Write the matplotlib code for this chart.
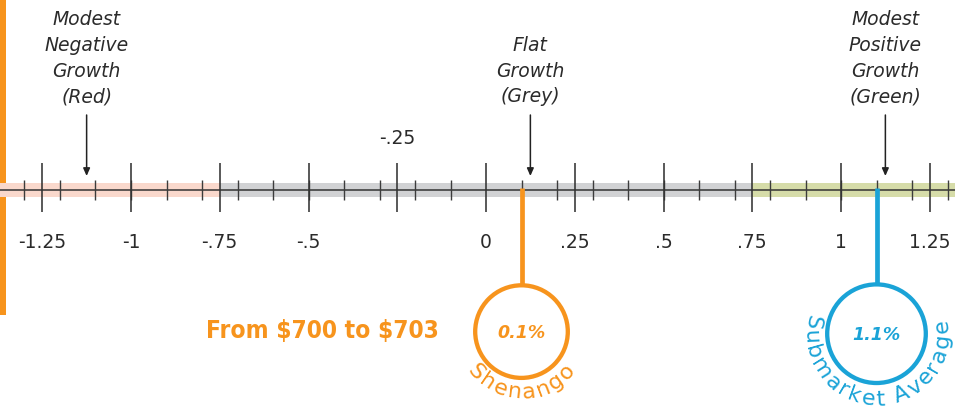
import numpy as np
import matplotlib
matplotlib.use("Agg")
import matplotlib.pyplot as plt
from matplotlib.patches import Ellipse, Rectangle
from matplotlib import font_manager
from matplotlib.ft2font import FT2Font

# ---------------- data ----------------
major_ticks = [-1.25, -1.0, -0.75, -0.5, -0.25, 0.0, 0.25, 0.5, 0.75, 1.0, 1.25]
major_labels = ['-1.25', '-1', '-.75', '-.5', '-.25', '0', '.25', '.5', '.75', '1', '1.25']
labels_above = ['-.25']
minor_ticks = [-1.3, -1.2, -1.1, -1.0, -0.9, -0.8, -0.7, -0.6, -0.5, -0.4, -0.3, -0.2, -0.1,
               0.1, 0.2, 0.3, 0.4, 0.5, 0.6, 0.7, 0.8, 0.9, 1.0, 1.1, 1.2, 1.3]

zone_edges = [-0.75, 0.75]           # red | grey | green
zone_colors = ['#f9d8cc', '#d1d2d4', '#d6dca9']
zone_label_lines = [['Modest', 'Negative', 'Growth', '(Red)'],
                    ['Flat', 'Growth', '(Grey)'],
                    ['Modest', 'Positive', 'Growth', '(Green)']]
zone_arrow_x = [-1.125, 0.125, 1.125]

marker_names = ['Shenango', 'Submarket Average']
marker_values = [0.1, 1.1]
marker_labels = ['0.1%', '1.1%']
marker_colors = ['#f7941d', '#1aa3d7']
shenango_note = 'From $700 to $703'

# ---------------- layout (pixels) ----------------
W, H, DPI = 955, 408, 100
PX_PER_UNIT = 355.0
X0 = 486.0                      # pixel of value 0
AXIS_Y = 189.5

fig = plt.figure(figsize=(W / DPI, H / DPI), dpi=DPI)
ax = fig.add_axes([0, 0, 1, 1])
xmin, xmax = -X0 / PX_PER_UNIT, (W - X0) / PX_PER_UNIT
ax.set_xlim(xmin, xmax)
ax.set_ylim(H, 0)
ax.axis('off')

def px(d):
    return d / PX_PER_UNIT

FONT = 'DejaVu Sans'
TXT = '#2b2b2b'

# left orange bar
ax.add_patch(Rectangle((xmin, 0), px(6), 315, color='#f7941d', lw=0, zorder=1))

# colored bands
bounds = [xmin] + zone_edges + [xmax]
for i, c in enumerate(zone_colors):
    ax.add_patch(Rectangle((bounds[i], AXIS_Y - 7), bounds[i + 1] - bounds[i], 14,
                           color=c, lw=0, zorder=1))

# axis line
ax.plot([xmin, xmax], [AXIS_Y, AXIS_Y], color='#333333', lw=1.1, zorder=3)

# ticks
for v in minor_ticks:
    ax.plot([v, v], [180, 200], color='#3c3c3c', lw=1.0, zorder=3, solid_capstyle='butt')
for v in major_ticks:
    ax.plot([v, v], [163, 212], color='#333333', lw=1.15, zorder=3, solid_capstyle='butt')

# tick labels
for v, lab in zip(major_ticks, major_labels):
    y = 139 if lab in labels_above else 242
    ax.text(v, y, lab, ha='center', va='center', fontsize=13.5, family=FONT,
            color=TXT, zorder=4)

# zone labels + arrows
line_step = 25.8
for lines, xv in zip(zone_label_lines, zone_arrow_x):
    n = len(lines)
    for k, line in enumerate(lines):
        y = 97 - (n - 1 - k) * line_step
        ax.text(xv, y, line, ha='center', va='center', fontsize=13.5, family=FONT,
                style='italic', color=TXT, zorder=4)
    ax.annotate('', xy=(xv, 176), xytext=(xv, 115),
                arrowprops=dict(arrowstyle='-|>,head_length=0.45,head_width=0.2',
                                lw=1.1, color='#222222', shrinkA=0, shrinkB=0),
                zorder=4)

# curved text helper
def advances(text, size_pt):
    try:
        fp = font_manager.FontProperties(family=FONT, size=size_pt)
        font = FT2Font(font_manager.findfont(fp))
        font.set_size(size_pt, DPI)
        out = []
        for ch in text:
            g = font.load_char(ord(ch))
            out.append(g.linearHoriAdvance / 65536.0)
        return out
    except Exception:
        return [0.62 * size_pt * DPI / 72.0] * len(text)

def curved_text(xv, cy, r, text, size_pt, color, spacing, center_deg=270.0):
    adv = advances(text, size_pt)
    total = sum(adv) + spacing * (len(text) - 1)
    start = np.radians(center_deg) - total / (2 * r)
    s = 0.0
    for ch, a in zip(text, adv):
        theta = start + (s + a / 2.0) / r
        s += a + spacing
        if ch == ' ':
            continue
        x = xv + px(r * np.cos(theta))
        y = cy - r * np.sin(theta)
        ax.text(x, y, ch, ha='center', va='baseline', rotation=np.degrees(theta) + 90,
                rotation_mode='anchor', fontsize=size_pt, family=FONT, color=color,
                zorder=5)

# markers
circle_r = [46.3, 49.3]
circle_cy = [331.6, 333.7]
text_r = [67.0, 72.0]
text_spacing = [2.2, 2.5]
text_center = [270.0, 268.0]
for name, v, lab, col, r, cy, tr, sp, tc in zip(marker_names, marker_values, marker_labels,
                                                marker_colors, circle_r, circle_cy,
                                                text_r, text_spacing, text_center):
    ax.plot([v, v], [AXIS_Y - 2, cy - r], color=col, lw=3.4, zorder=5,
            solid_capstyle='butt')
    ax.add_patch(Ellipse((v, cy), px(2 * r), 2 * r, fill=False, edgecolor=col,
                         lw=3.1, zorder=5))
    ax.text(v, cy + 1, lab, ha='center', va='center', fontsize=12.5, family=FONT,
            style='italic', weight='bold', color=col, zorder=5)
    curved_text(v, cy, tr, name, 16, col, sp, tc)

# Shenango note
ax.text(marker_values[0] - px(circle_r[0] + 36), 331, shenango_note, ha='right',
        va='center', fontsize=17.6, weight='bold', stretch='condensed',
        family=['Liberation Sans Narrow', 'DejaVu Sans'], color=marker_colors[0],
        parse_math=False, zorder=5)

fig.savefig('out.png', dpi=DPI)
